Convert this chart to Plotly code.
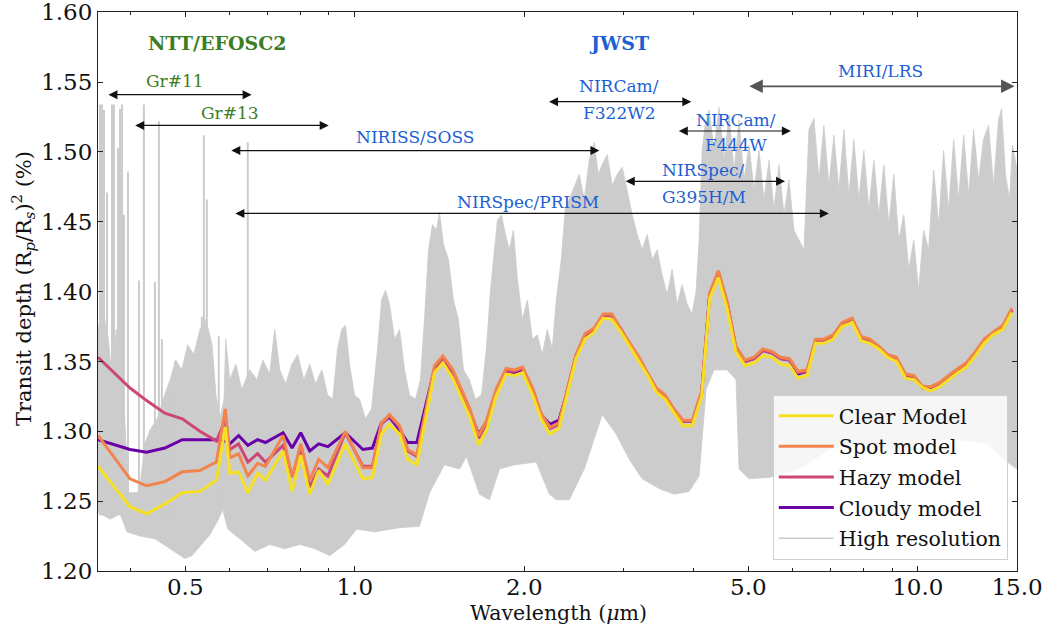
import numpy as np
import plotly.graph_objects as go

# ---------------- data ----------------
# binned model wavelengths (micron)
wl = [0.350, 0.399, 0.427, 0.460, 0.494, 0.531, 0.568, 0.589, 0.600, 0.622,
      0.646, 0.672, 0.694, 0.746, 0.774, 0.802, 0.832, 0.863, 0.896, 0.962,
      1.034, 1.075, 1.115, 1.153, 1.201, 1.242, 1.289, 1.386, 1.434, 1.493,
      1.598, 1.660, 1.715, 1.782, 1.857, 1.921, 1.987, 2.070, 2.142, 2.222,
      2.305, 2.378, 2.471, 2.566, 2.662, 2.762, 2.862, 2.969, 3.072, 3.199,
      3.310, 3.434, 3.558, 3.690, 3.829, 3.977, 4.133, 4.270, 4.423, 4.589,
      4.749, 4.932, 5.117, 5.309, 5.513, 5.705, 5.918, 6.129, 6.359, 6.582,
      6.809, 7.072, 7.338, 7.643, 7.928, 8.218, 8.523, 8.841, 9.162, 9.505,
      9.834, 10.21, 10.55, 10.93, 11.34, 11.77, 12.19, 12.65, 13.12, 13.59,
      14.16, 14.69]

clear = [1.275, 1.246, 1.241, 1.248, 1.256, 1.257, 1.265, 1.303, 1.270, 1.271,
         1.256, 1.270, 1.265, 1.286, 1.257, 1.283, 1.255, 1.272, 1.262, 1.291,
         1.266, 1.267, 1.298, 1.305, 1.298, 1.280, 1.276, 1.342, 1.349, 1.338,
         1.311, 1.290, 1.301, 1.325, 1.341, 1.340, 1.342, 1.326, 1.309, 1.298,
         1.302, 1.324, 1.352, 1.366, 1.371, 1.381, 1.380, 1.371, 1.361, 1.350,
         1.340, 1.328, 1.323, 1.313, 1.304, 1.304, 1.325, 1.395, 1.410, 1.387,
         1.357, 1.347, 1.349, 1.354, 1.353, 1.348, 1.347, 1.338, 1.340, 1.363,
         1.363, 1.366, 1.375, 1.378, 1.365, 1.363, 1.359, 1.353, 1.350, 1.338,
         1.337, 1.331, 1.329, 1.332, 1.337, 1.342, 1.346, 1.354, 1.363, 1.369,
         1.373, 1.385]

spot = [1.297, 1.266, 1.261, 1.264, 1.271, 1.272, 1.278, 1.316, 1.281, 1.284,
        1.268, 1.277, 1.275, 1.297, 1.267, 1.291, 1.265, 1.280, 1.274, 1.300,
        1.274, 1.274, 1.306, 1.312, 1.304, 1.287, 1.283, 1.347, 1.354, 1.344,
        1.317, 1.297, 1.308, 1.330, 1.345, 1.344, 1.346, 1.331, 1.313, 1.303,
        1.306, 1.328, 1.355, 1.370, 1.374, 1.384, 1.384, 1.373, 1.364, 1.353,
        1.342, 1.331, 1.326, 1.316, 1.308, 1.308, 1.329, 1.399, 1.415, 1.392,
        1.361, 1.351, 1.353, 1.359, 1.357, 1.353, 1.352, 1.343, 1.344, 1.366,
        1.366, 1.369, 1.378, 1.381, 1.368, 1.366, 1.361, 1.355, 1.353, 1.341,
        1.340, 1.332, 1.332, 1.335, 1.340, 1.345, 1.349, 1.357, 1.366, 1.371,
        1.376, 1.388]

hazy = [1.353, 1.331, 1.322, 1.313, 1.309, 1.300, 1.293, 1.308, 1.287, 1.291,
        1.278, 1.284, 1.278, 1.290, 1.268, 1.286, 1.260, 1.273, 1.268, 1.299,
        1.275, 1.275, 1.305, 1.311, 1.303, 1.286, 1.282, 1.345, 1.352, 1.342,
        1.315, 1.295, 1.306, 1.328, 1.343, 1.343, 1.345, 1.330, 1.312, 1.302,
        1.305, 1.327, 1.354, 1.369, 1.373, 1.383, 1.383, 1.373, 1.363, 1.352,
        1.341, 1.330, 1.325, 1.315, 1.307, 1.307, 1.328, 1.398, 1.414, 1.391,
        1.360, 1.350, 1.352, 1.358, 1.356, 1.352, 1.351, 1.342, 1.343, 1.365,
        1.365, 1.368, 1.377, 1.380, 1.367, 1.365, 1.360, 1.354, 1.352, 1.340,
        1.339, 1.331, 1.331, 1.334, 1.339, 1.344, 1.348, 1.356, 1.365, 1.370,
        1.375, 1.387]

cloudy = [1.294, 1.287, 1.285, 1.288, 1.294, 1.294, 1.294, 1.293, 1.291, 1.297,
          1.290, 1.294, 1.292, 1.299, 1.288, 1.299, 1.286, 1.291, 1.289, 1.299,
          1.287, 1.288, 1.306, 1.310, 1.301, 1.292, 1.292, 1.345, 1.352, 1.342,
          1.315, 1.298, 1.307, 1.328, 1.343, 1.342, 1.344, 1.330, 1.312, 1.305,
          1.308, 1.327, 1.354, 1.369, 1.373, 1.383, 1.383, 1.373, 1.363, 1.352,
          1.341, 1.330, 1.325, 1.315, 1.307, 1.307, 1.328, 1.398, 1.414, 1.391,
          1.360, 1.350, 1.352, 1.358, 1.356, 1.352, 1.351, 1.341, 1.343, 1.365,
          1.365, 1.368, 1.377, 1.380, 1.367, 1.365, 1.360, 1.354, 1.352, 1.340,
          1.339, 1.331, 1.331, 1.334, 1.339, 1.344, 1.348, 1.356, 1.365, 1.370,
          1.375, 1.387]

# high-resolution spectrum: upper and lower envelope of the dense line forest
hr_top_wl = [0.350, 0.357, 0.365, 0.371, 0.377, 0.383, 0.389, 0.394, 0.396, 0.412,
             0.417, 0.424, 0.433, 0.446, 0.457, 0.470, 0.481, 0.493, 0.505, 0.518,
             0.531, 0.544, 0.558, 0.567, 0.576, 0.586, 0.590, 0.600, 0.615, 0.630,
             0.651, 0.670, 0.687, 0.706, 0.721, 0.736, 0.754, 0.773, 0.792, 0.812,
             0.832, 0.852, 0.874, 0.895, 0.914, 0.932, 0.948, 0.963, 0.979, 0.999,
             1.020, 1.045, 1.071, 1.098, 1.116, 1.134, 1.153, 1.177, 1.201, 1.226,
             1.251, 1.282, 1.308, 1.330, 1.352, 1.374, 1.397, 1.414, 1.437, 1.467,
             1.497, 1.528, 1.560, 1.598, 1.638, 1.679, 1.713, 1.742, 1.770, 1.792,
             1.822, 1.852, 1.882, 1.913, 1.945, 1.985, 2.026, 2.067, 2.110, 2.153,
             2.198, 2.243, 2.280, 2.327, 2.365, 2.404, 2.454, 2.505, 2.556, 2.609,
             2.663, 2.707, 2.751, 2.808, 2.866, 2.925, 2.986, 3.047, 3.110, 3.174,
             3.240, 3.306, 3.375, 3.444, 3.515, 3.588, 3.662, 3.737, 3.814, 3.893,
             3.973, 4.039, 4.088, 4.139, 4.190, 4.259, 4.346, 4.436, 4.528, 4.621,
             4.716, 4.814, 4.913, 5.014, 5.118, 5.223, 5.331, 5.441, 5.553, 5.668,
             5.785, 5.904, 6.026, 6.150, 6.277, 6.406, 6.538, 6.673, 6.811, 6.951,
             7.095, 7.241, 7.391, 7.543, 7.699, 7.857, 8.019, 8.185, 8.354, 8.526,
             8.702, 8.881, 9.064, 9.251, 9.442, 9.637, 9.836, 10.03, 10.24, 10.45,
             10.67, 10.89, 11.11, 11.34, 11.58, 11.81, 12.06, 12.31, 12.56, 12.82,
             13.08, 13.35, 13.63, 13.91, 14.08, 14.31, 14.55, 14.73, 15.00]
hr_top = [1.373, 1.387, 1.366, 1.337, 1.373, 1.351, 1.323, 1.273, 1.256, 1.256,
          1.266, 1.291, 1.301, 1.309, 1.323, 1.337, 1.351, 1.344, 1.362, 1.355,
          1.373, 1.380, 1.362, 1.326, 1.309, 1.323, 1.366, 1.337, 1.348, 1.330,
          1.344, 1.337, 1.351, 1.341, 1.373, 1.344, 1.334, 1.348, 1.355, 1.337,
          1.348, 1.334, 1.344, 1.326, 1.323, 1.359, 1.373, 1.376, 1.348, 1.326,
          1.323, 1.309, 1.316, 1.359, 1.394, 1.401, 1.391, 1.366, 1.373, 1.344,
          1.326, 1.323, 1.337, 1.380, 1.430, 1.448, 1.444, 1.457, 1.434, 1.423,
          1.394, 1.380, 1.344, 1.337, 1.323, 1.326, 1.359, 1.401, 1.430, 1.451,
          1.455, 1.441, 1.430, 1.444, 1.409, 1.380, 1.394, 1.366, 1.369, 1.355,
          1.373, 1.359, 1.394, 1.423, 1.459, 1.466, 1.476, 1.484, 1.466, 1.494,
          1.507, 1.484, 1.491, 1.498, 1.476, 1.484, 1.489, 1.471, 1.455, 1.441,
          1.430, 1.441, 1.423, 1.430, 1.412, 1.398, 1.416, 1.391, 1.405, 1.391,
          1.384, 1.401, 1.437, 1.501, 1.519, 1.530, 1.501, 1.532, 1.494, 1.526,
          1.487, 1.523, 1.480, 1.505, 1.473, 1.501, 1.466, 1.494, 1.459, 1.491,
          1.455, 1.480, 1.444, 1.437, 1.430, 1.516, 1.524, 1.480, 1.519, 1.476,
          1.512, 1.473, 1.516, 1.469, 1.509, 1.466, 1.501, 1.459, 1.494, 1.455,
          1.491, 1.448, 1.484, 1.437, 1.455, 1.416, 1.437, 1.401, 1.444, 1.430,
          1.487, 1.448, 1.501, 1.459, 1.509, 1.466, 1.512, 1.469, 1.516, 1.480,
          1.509, 1.519, 1.476, 1.523, 1.531, 1.484, 1.466, 1.505, 1.487]
hr_bot_wl = [0.350, 0.368, 0.383, 0.394, 0.416, 0.442, 0.470, 0.499, 0.514, 0.531,
             0.553, 0.571, 0.583, 0.595, 0.625, 0.665, 0.706, 0.751, 0.799, 0.849,
             0.903, 0.959, 1.008, 1.084, 1.201, 1.303, 1.358, 1.443, 1.535, 1.579,
             1.665, 1.735, 1.807, 1.921, 2.101, 2.216, 2.280, 2.404, 2.556, 2.751,
             2.913, 3.072, 3.240, 3.472, 3.692, 3.925, 4.088, 4.207, 4.346, 4.583,
             4.755, 4.814, 5.014, 5.441, 6.150, 6.951, 7.857, 9.251, 10.45, 11.81,
             13.35, 14.20, 15.00]
hr_bot = [1.242, 1.237, 1.241, 1.228, 1.225, 1.223, 1.216, 1.209, 1.211, 1.218,
          1.226, 1.236, 1.244, 1.230, 1.223, 1.214, 1.219, 1.216, 1.219, 1.216,
          1.211, 1.219, 1.230, 1.228, 1.231, 1.232, 1.256, 1.276, 1.273, 1.282,
          1.255, 1.251, 1.273, 1.276, 1.278, 1.255, 1.251, 1.251, 1.273, 1.312,
          1.298, 1.280, 1.266, 1.259, 1.255, 1.257, 1.268, 1.330, 1.344, 1.344,
          1.337, 1.273, 1.266, 1.267, 1.273, 1.287, 1.291, 1.287, 1.294, 1.294,
          1.291, 1.280, 1.273]
# isolated tall lines of the high-resolution spectrum
spike_wl = [0.3529, 0.3558, 0.3587, 0.3631, 0.3706, 0.3736, 0.3798, 0.3829, 0.3861,
            0.3892, 0.3956, 0.4138, 0.4223, 0.4417, 0.4490, 0.4545, 0.4793, 0.5352,
            0.5395, 0.5462, 0.5735, 0.6457]
spike_top = [1.534, 1.534, 1.530, 1.471, 1.534, 1.534, 1.503, 1.531, 1.534,
             1.455, 1.486, 1.408, 1.534, 1.407, 1.522, 1.366, 1.350, 1.382,
             1.512, 1.466, 1.368, 1.507]
spike_base = 1.24

# instrument coverage ranges (micron) and arrow heights
instr_ranges = {
    "Gr#11": (0.363, 0.656, 1.541),
    "Gr#13": (0.405, 0.899, 1.519),
    "NIRISS/SOSS": (0.600, 2.72, 1.501),
    "NIRSpec/PRISM": (0.610, 6.95, 1.456),
    "NIRCam/F322W2": (2.20, 3.96, 1.536),
    "NIRCam/F444W": (3.74, 5.95, 1.515),
    "NIRSpec/G395H/M": (3.01, 5.81, 1.479),
    "MIRI/LRS": (4.99, 14.85, 1.547),
}

x_ticks = [0.5, 1.0, 2.0, 5.0, 10.0, 15.0]
x_ticktext = ["0.5", "1.0", "2.0", "5.0", "10.0", "15.0"]
x_minor = [0.4, 0.6, 0.7, 0.8, 0.9, 3, 4, 6, 7, 8, 9]
y_ticks = [1.20, 1.25, 1.30, 1.35, 1.40, 1.45, 1.50, 1.55, 1.60]
y_ticktext = ["1.20", "1.25", "1.30", "1.35", "1.40", "1.45", "1.50", "1.55", "1.60"]

# ---------------- figure ----------------
FONT = "DejaVu Serif"
GREEN = "#3b7d23"
BLUE = "#1d5fd3"
GRAY = "#cccccc"

fig = go.Figure()

fig.add_trace(go.Scatter(
    x=hr_top_wl + hr_bot_wl[::-1], y=hr_top + hr_bot[::-1],
    mode="lines", fill="toself", fillcolor=GRAY,
    line=dict(color=GRAY, width=0.8), showlegend=False, hoverinfo="skip"))

sx, sy = [], []
for w, t in zip(spike_wl, spike_top):
    sx += [w, w, None]
    sy += [spike_base, t, None]
fig.add_trace(go.Scatter(x=sx, y=sy, mode="lines",
                         line=dict(color=GRAY, width=2),
                         showlegend=False, hoverinfo="skip"))

models = [("Cloudy model", cloudy, "#6a00a8", 4),
          ("Hazy model", hazy, "#cc4778", 3),
          ("Spot model", spot, "#f2844b", 2),
          ("Clear Model", clear, "#f5e024", 1)]
for name, vals, col, rank in models:
    fig.add_trace(go.Scatter(x=wl, y=vals, mode="lines", name=name,
                             line=dict(color=col, width=3),
                             legendrank=rank, legendgroup=name))
fig.add_trace(go.Scatter(x=[None], y=[None], mode="lines", name="High resolution",
                         line=dict(color=GRAY, width=1.3), legendrank=5,
                         legendgroup="hr"))

# instrument arrows
for key, (l0, l1, yv) in instr_ranges.items():
    col = "#555555" if key == "MIRI/LRS" else "#111111"
    wdt = 1.8 if key == "MIRI/LRS" else 1.2
    fig.add_annotation(x=np.log10(l1), y=yv, ax=np.log10(l0), ay=yv,
                       xref="x", yref="y", axref="x", ayref="y", text="",
                       showarrow=True, arrowside="end+start",
                       arrowhead=2, startarrowhead=2,
                       arrowsize=1.5, startarrowsize=1.5,
                       arrowwidth=wdt, arrowcolor=col)

labels = [
    ("<b>NTT/EFOSC2</b>", 0.571, 1.578, GREEN, 19),
    ("<b>JWST</b>", 2.95, 1.578, BLUE, 19),
    ("Gr#11", 0.479, 1.551, GREEN, 17),
    ("Gr#13", 0.600, 1.528, GREEN, 17),
    ("NIRISS/SOSS", 1.282, 1.511, BLUE, 17),
    ("NIRSpec/PRISM", 2.034, 1.464, BLUE, 17),
    ("NIRCam/", 2.95, 1.547, BLUE, 17),
    ("F322W2", 2.95, 1.528, BLUE, 17),
    ("NIRCam/", 4.755, 1.523, BLUE, 17),
    ("F444W", 4.755, 1.505, BLUE, 17),
    ("NIRSpec/", 4.17, 1.487, BLUE, 17),
    ("G395H/M", 4.17, 1.468, BLUE, 17),
    ("MIRI/LRS", 8.6, 1.558, BLUE, 17),
]
for txt, lam, yv, col, sz in labels:
    fig.add_annotation(x=np.log10(lam), y=yv, xref="x", yref="y", text=txt,
                       showarrow=False, font=dict(family=FONT, size=sz, color=col),
                       xanchor="center", yanchor="middle")

# axis titles
fig.add_annotation(x=0.501, y=-0.0755, xref="paper", yref="paper",
                   text="Wavelength (<i>μ</i>m)", showarrow=False,
                   font=dict(family=FONT, size=20.5, color="#111"),
                   xanchor="center", yanchor="middle")
fig.add_annotation(x=-0.0815, y=0.5045, xref="paper", yref="paper",
                   text="Transit depth (R<sub><i>p</i></sub>/R<sub><i>s</i></sub>)<sup>2</sup> (%)",
                   textangle=-90, showarrow=False,
                   font=dict(family=FONT, size=21, color="#111"),
                   xanchor="center", yanchor="middle")

axis_common = dict(showline=True, linecolor="#222", linewidth=1.2, mirror="ticks",
                   ticks="inside", ticklen=5, tickwidth=1, tickcolor="#222",
                   showgrid=False, zeroline=False, ticklabeloverflow="allow",
                   automargin=False,
                   tickfont=dict(family=FONT, size=23, color="#111"))
fig.update_xaxes(type="log", range=[np.log10(0.35), np.log10(15.0)],
                 tickvals=x_ticks, ticktext=x_ticktext, ticklabelstandoff=-5,
                 minor=dict(tickvals=x_minor, ticks="inside", ticklen=3,
                            tickcolor="#222", showgrid=False),
                 **axis_common)
fig.update_yaxes(range=[1.20, 1.6002], tickvals=y_ticks, ticktext=y_ticktext,
                 **axis_common)

fig.update_layout(
    width=1056, height=630,
    margin=dict(l=98, r=39, t=12, b=59, autoexpand=False),
    paper_bgcolor="white", plot_bgcolor="white",
    showlegend=True,
    legend=dict(x=0.99, y=0.02, xanchor="right", yanchor="bottom",
                bgcolor="rgba(255,255,255,0.82)", bordercolor="#cfcfcf",
                borderwidth=1, font=dict(family=FONT, size=20.5, color="#111"),
                itemwidth=55, tracegroupgap=1, traceorder="grouped"),
)

fig.write_html("out.html")
